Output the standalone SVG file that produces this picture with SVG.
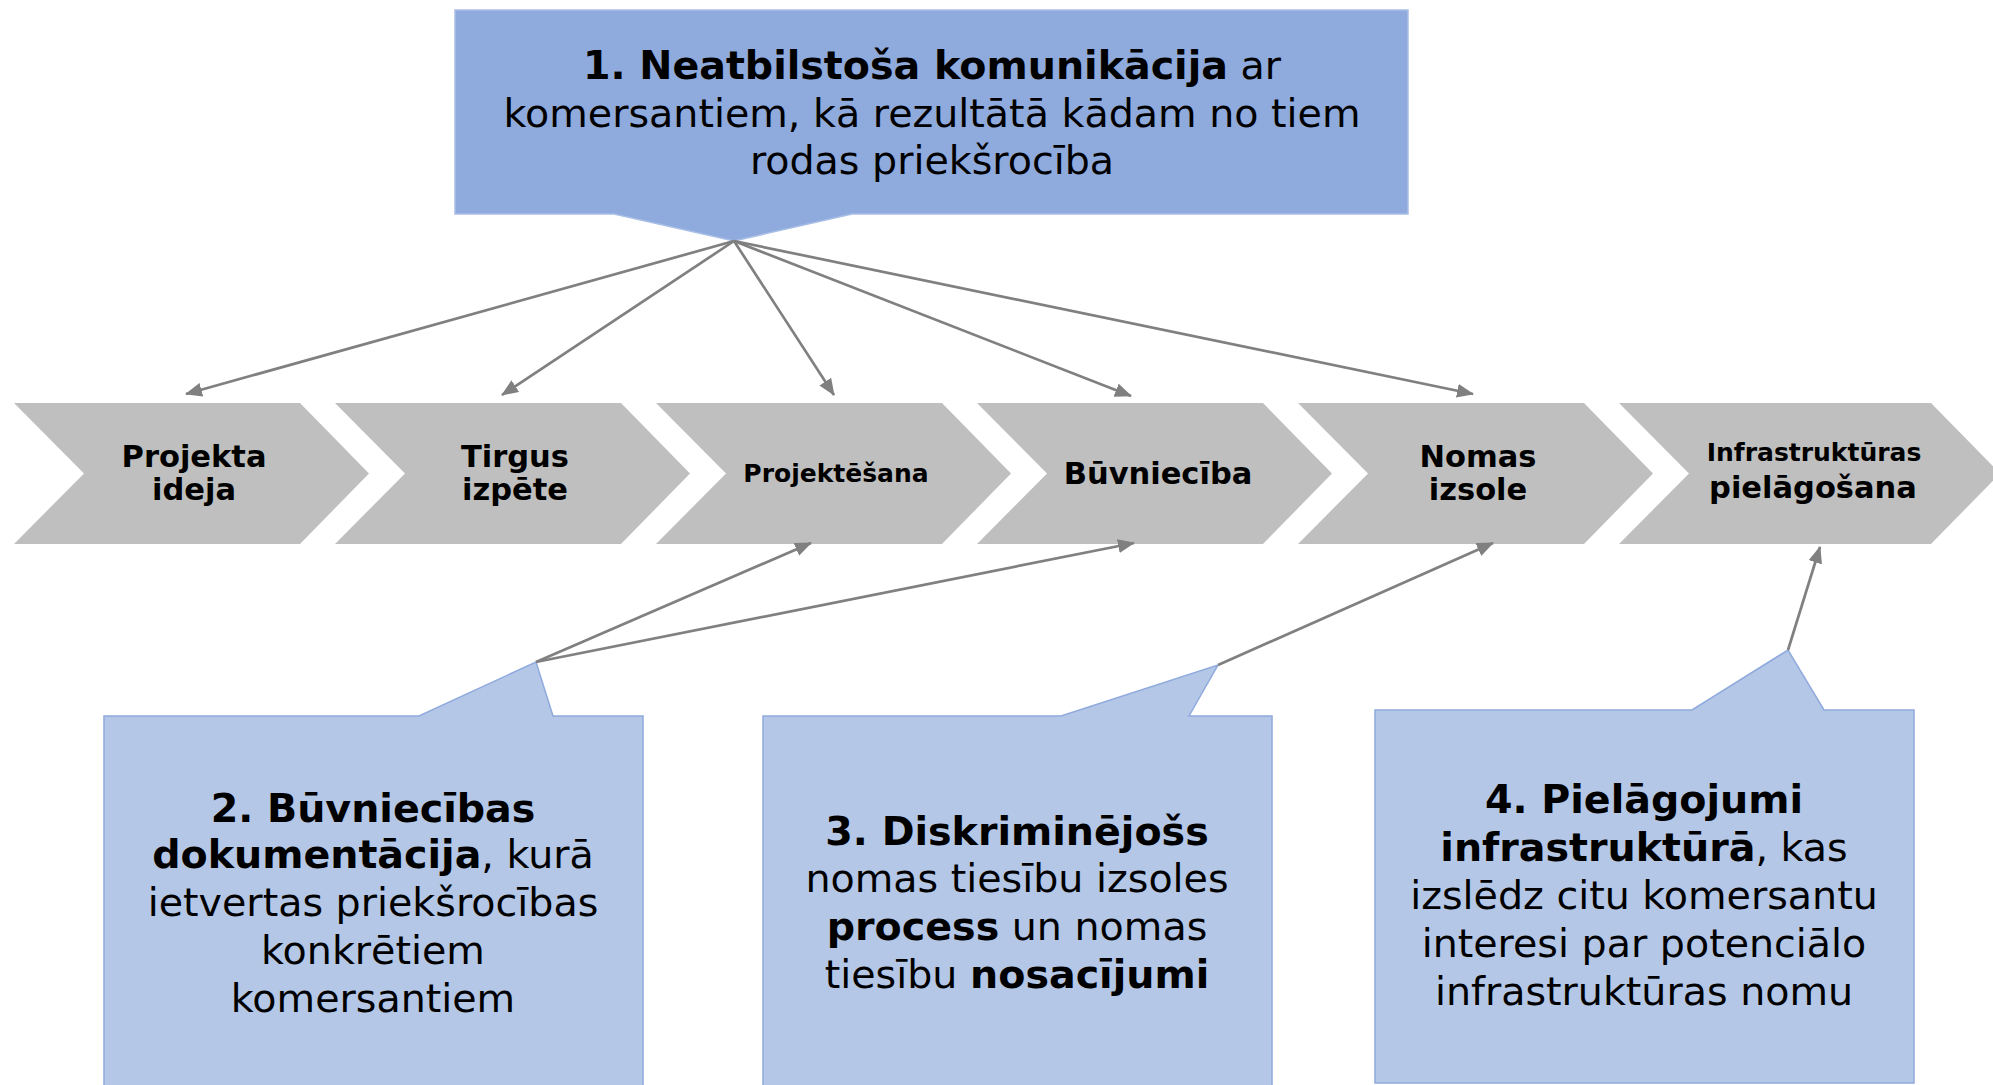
<svg xmlns="http://www.w3.org/2000/svg" width="1993" height="1085" viewBox="0 0 1993 1085">
<defs>
<style>
text{font-family:"DejaVu Sans",Verdana,sans-serif;fill:#000;text-anchor:middle}
.b{font-weight:bold}
.lbl{font-weight:bold;font-size:30.5px}
.lbls{font-weight:bold;font-size:25px}
.box{font-size:39.6px}
.chev{fill:#BFBFBF}
.top{fill:#8FAADC;stroke:#A9BFE6;stroke-width:1.5}
.call{fill:#B4C7E7;stroke:#8FAADC;stroke-width:1.5}
.con{stroke:#808080;stroke-width:2.7;fill:none;marker-end:url(#ah)}
</style>
<marker id="ah" markerUnits="userSpaceOnUse" markerWidth="17" markerHeight="14" refX="16" refY="7" orient="auto">
<path d="M0,0 L17,7 L0,14 Z" fill="#808080"/>
</marker>
</defs>
<rect width="1993" height="1085" fill="#fff"/>

<g id="step1">
<polygon class="chev" points="14,403 300,403 369,473.5 300,544 14,544 84,473.5"/>
<text class="lbl" x="194" y="467">Projekta</text>
<text class="lbl" x="194" y="500">ideja</text>
</g>
<g id="step2">
<polygon class="chev" points="335,403 621,403 690,473.5 621,544 335,544 405,473.5"/>
<text class="lbl" x="515" y="467">Tirgus</text>
<text class="lbl" x="515" y="500">izpēte</text>
</g>
<g id="step3">
<polygon class="chev" points="656,403 942,403 1011,473.5 942,544 656,544 726,473.5"/>
<text class="lbls" x="836" y="482">Projektēšana</text>
</g>
<g id="step4">
<polygon class="chev" points="977,403 1263,403 1332,473.5 1263,544 977,544 1047,473.5"/>
<text class="lbl" x="1158" y="484">Būvniecība</text>
</g>
<g id="step5">
<polygon class="chev" points="1298,403 1584,403 1653,473.5 1584,544 1298,544 1368,473.5"/>
<text class="lbl" x="1478" y="467">Nomas</text>
<text class="lbl" x="1478" y="500">izsole</text>
</g>
<g id="step6">
<polygon class="chev" points="1619,403 1931,403 2000,473.5 1931,544 1619,544 1689,473.5"/>
<text class="lbls" x="1814" y="461">Infrastruktūras</text>
<text class="lbl" x="1813" y="498">pielāgošana</text>
</g>

<g id="issue1">
<path class="top" d="M455,10 H1408 V214 H852 L734,241 L614,214 H455 Z"/>
<text class="box" x="932" y="79"><tspan class="b">1. Neatbilstoša komunikācija</tspan> ar</text>
<text class="box" x="932" y="127">komersantiem, kā rezultātā kādam no tiem</text>
<text class="box" x="932" y="174">rodas priekšrocība</text>
</g>

<g id="issue2">
<path class="call" d="M104,716 H419 L536,662 L553,716 H643 V1095 H104 Z"/>
<text class="box" x="373" y="822"><tspan class="b">2. Būvniecības</tspan></text>
<text class="box" x="373" y="868"><tspan class="b">dokumentācija</tspan>, kurā</text>
<text class="box" x="373" y="916">ietvertas priekšrocības</text>
<text class="box" x="373" y="964">konkrētiem</text>
<text class="box" x="373" y="1012">komersantiem</text>
</g>

<g id="issue3">
<path class="call" d="M763,716 H1061 L1218,665 L1189,716 H1272 V1095 H763 Z"/>
<text class="box" x="1017" y="845"><tspan class="b">3. Diskriminējošs</tspan></text>
<text class="box" x="1017" y="892">nomas tiesību izsoles</text>
<text class="box" x="1017" y="940"><tspan class="b">process</tspan> un nomas</text>
<text class="box" x="1017" y="988">tiesību <tspan class="b">nosacījumi</tspan></text>
</g>

<g id="issue4">
<path class="call" d="M1375,710 H1692 L1788,650 L1824,710 H1914 V1083 H1375 Z"/>
<text class="box" x="1644" y="813"><tspan class="b">4. Pielāgojumi</tspan></text>
<text class="box" x="1644" y="861"><tspan class="b">infrastruktūrā</tspan>, kas</text>
<text class="box" x="1644" y="909">izslēdz citu komersantu</text>
<text class="box" x="1644" y="957">interesi par potenciālo</text>
<text class="box" x="1644" y="1005">infrastruktūras nomu</text>
</g>

<g id="connectors">
<line class="con" x1="734" y1="241" x2="186" y2="394"/>
<line class="con" x1="734" y1="241" x2="502" y2="395"/>
<line class="con" x1="734" y1="241" x2="834" y2="395"/>
<line class="con" x1="734" y1="241" x2="1131" y2="396"/>
<line class="con" x1="734" y1="241" x2="1473" y2="394"/>
<line class="con" x1="536" y1="662" x2="811" y2="543"/>
<line class="con" x1="536" y1="662" x2="1134" y2="543"/>
<line class="con" x1="1218" y1="665" x2="1493" y2="543"/>
<line class="con" x1="1788" y1="650" x2="1820" y2="547"/>
</g>
</svg>
